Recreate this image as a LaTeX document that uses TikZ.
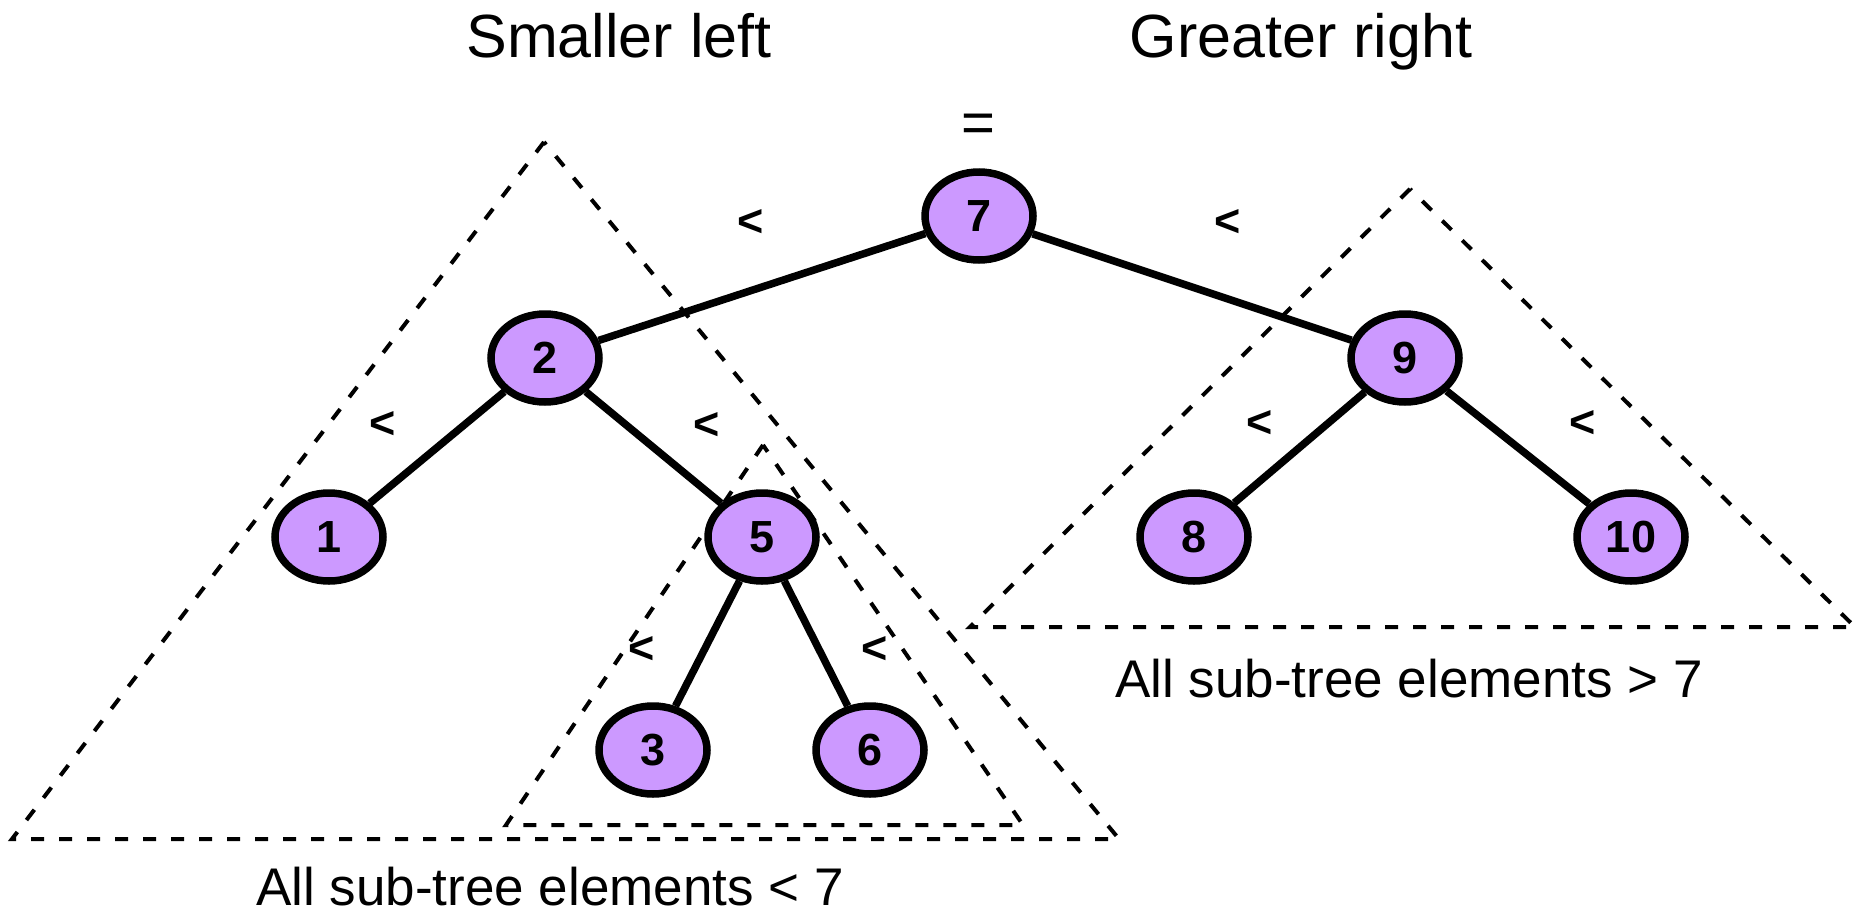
\documentclass[tikz,border=0pt]{standalone}
\usepackage{fontspec}
\setmainfont{Liberation Sans}
\usetikzlibrary{shapes.geometric}
\definecolor{nodefill}{HTML}{CC99FF}
\tikzset{
  treenode/.style={ellipse, draw=black, fill=nodefill, line width=7.5pt, inner sep=0pt,
    minimum width=108pt, minimum height=88pt,
    font=\fontsize{45}{50}\selectfont\bfseries},
  treeedge/.style={line width=7.5pt},
  subtree/.style={line width=4pt, dash pattern=on 13pt off 15pt},
  lt/.style={inner sep=0pt, font=\fontsize{45}{50}\selectfont\bfseries},
  title/.style={inner sep=0pt, anchor=base, font=\fontsize{61}{70}\selectfont},
  caption/.style={inner sep=0pt, anchor=base, font=\fontsize{53}{60}\selectfont}
}
\begin{document}
\begin{tikzpicture}[x=1pt,y=-1pt]
\useasboundingbox (0,0) rectangle (1858,913);
% subtree triangles
\coordinate (A1) at (544,142);
\coordinate (B1) at (12,839);
\coordinate (C1) at (1119,839);
\coordinate (A2) at (763,445);
\coordinate (B2) at (506,825);
\coordinate (C2) at (1023,825);
\coordinate (A3) at (1410,189);
\coordinate (B3) at (970,627);
\coordinate (C3) at (1855,627);
\draw[subtree] (A1) -- (B1) -- (C1) -- cycle;
\draw[subtree] (A2) -- (B2) -- (C2) -- cycle;
\draw[subtree] (A3) -- (B3) -- (C3) -- cycle;
% nodes
\node[treenode] (n7) at (979,216) {7};
\node[treenode] (n2) at (545,358) {2};
\node[treenode] (n1) at (329,537) {1};
\node[treenode] (n5) at (762,537) {5};
\node[treenode] (n3) at (653,750) {3};
\node[treenode] (n6) at (870,750) {6};
\node[treenode] (n9) at (1405,358) {9};
\node[treenode] (n8) at (1194,537) {8};
\node[treenode] (n10) at (1631,537) {10};
% edges
\draw[treeedge] (n7) -- (n2);
\draw[treeedge] (n7) -- (n9);
\draw[treeedge] (n2) -- (n1);
\draw[treeedge] (n2) -- (n5);
\draw[treeedge] (n5) -- (n3);
\draw[treeedge] (n5) -- (n6);
\draw[treeedge] (n9) -- (n8);
\draw[treeedge] (n9) -- (n10);
% comparison labels
\node[lt] (l72) at (751,223) {<};
\node[lt] (l79) at (1228,223) {<};
\node[lt] (l21) at (383,425) {<};
\node[lt] (l25) at (707,426) {<};
\node[lt] (l53) at (642,650) {<};
\node[lt] (l56) at (875,650) {<};
\node[lt] (l98) at (1260,424) {<};
\node[lt] (l910) at (1583,424) {<};
\node[inner sep=0pt, font=\fontsize{58}{60}\selectfont] (eq) at (978,128) {=};
% titles and captions
\node[title] (tl) at (619,57) {Smaller left};
\node[title] (tr) at (1301,57) {Greater right};
\node[caption] (cl) at (550,905) {All sub-tree elements < 7};
\node[caption] (cr) at (1409,697) {All sub-tree elements > 7};
\end{tikzpicture}
\end{document}
